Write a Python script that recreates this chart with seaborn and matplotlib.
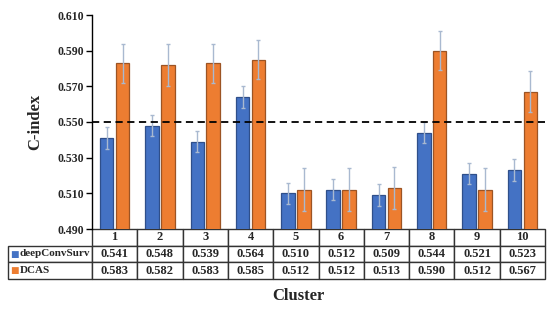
import pandas as pd
import matplotlib
matplotlib.use("Agg")
import matplotlib.pyplot as plt
import seaborn as sns

# Data
clusters = ["1", "2", "3", "4", "5", "6", "7", "8", "9", "10"]
deepconvsurv = [0.541, 0.548, 0.539, 0.564, 0.510, 0.512, 0.509, 0.544, 0.521, 0.523]
dcas = [0.583, 0.582, 0.583, 0.585, 0.512, 0.512, 0.513, 0.590, 0.512, 0.567]
deepconvsurv_err = [0.006, 0.006, 0.006, 0.006, 0.006, 0.006, 0.006, 0.006, 0.006, 0.006]
dcas_err = [0.011, 0.012, 0.011, 0.011, 0.012, 0.012, 0.012, 0.011, 0.012, 0.0115]
series = ["deepConvSurv", "DCAS"]
threshold = 0.55

colors = {"deepConvSurv": "#4472C4", "DCAS": "#ED7D31"}
edges = {"deepConvSurv": "#2F4F8A", "DCAS": "#9C5424"}

df = pd.DataFrame({
    "Cluster": clusters * 2,
    "C-index": deepconvsurv + dcas,
    "Model": [series[0]] * len(clusters) + [series[1]] * len(clusters),
})

sns.set_style("white")
plt.rcParams["font.family"] = ["Liberation Serif", "DejaVu Sans"]
plt.rcParams["font.weight"] = "bold"

fig = plt.figure(figsize=(5.54, 3.12), dpi=100)
ax = fig.add_axes([92 / 554, 1 - 229 / 312, 453 / 554, 214 / 312])

sns.barplot(data=df, x="Cluster", y="C-index", hue="Model", order=clusters,
            hue_order=series, palette=colors, saturation=1, width=0.7, gap=0.15,
            errorbar=None, legend=False, ax=ax, zorder=2)

# outline + error bars per series
for cont, name, errs in zip(ax.containers, series, [deepconvsurv_err, dcas_err]):
    xs, ys = [], []
    for bar in cont:
        bar.set_edgecolor(edges[name])
        bar.set_linewidth(0.9)
        xs.append(bar.get_x() + bar.get_width() / 2)
        ys.append(bar.get_height())
    ax.errorbar(xs, ys, yerr=errs, fmt="none", ecolor="#A9B9D0",
                elinewidth=1.0, capsize=1.5, capthick=1.0, zorder=3)

ax.axhline(threshold, color="black", linestyle="--", linewidth=1.3, dashes=(4, 2.5), zorder=4)

ax.set_xlim(-0.5, len(clusters) - 0.5)
ax.set_ylim(0.49, 0.61)
ax.set_yticks([0.49, 0.51, 0.53, 0.55, 0.57, 0.59, 0.61])
ax.set_yticklabels([f"{v:.3f}" for v in ax.get_yticks()], fontsize=8.5, fontweight="bold")
ax.tick_params(axis="y", direction="out", length=4, width=1, color="black", pad=2, left=True)
ax.set_xticks([])
ax.set_xlabel("")
ax.set_ylabel("C-index", fontsize=12, fontweight="bold", labelpad=10)
for s in ["top", "right", "bottom"]:
    ax.spines[s].set_visible(False)
ax.spines["left"].set_color("black")
ax.spines["left"].set_linewidth(1)

# data table under the bars (first column holds the row labels)
cell_text = [[""] + [f"{v:.3f}" for v in deepconvsurv],
             [""] + [f"{v:.3f}" for v in dcas]]
h = 50 / 214
x0 = -84 / 453
tw = 537 / 453
tbl = ax.table(cellText=cell_text, colLabels=[""] + clusters,
               colWidths=[84 / 537] + [45.3 / 537] * len(clusters),
               cellLoc="center", bbox=[x0, -h, tw, h])
tbl.auto_set_font_size(False)
tbl.set_fontsize(9)
for (r, c), cell in tbl.get_celld().items():
    cell.set_edgecolor("#333333")
    cell.set_linewidth(1)
    cell.get_text().set_fontweight("bold")
    if r == 0 and c == 0:
        cell.visible_edges = ""

for i, name in enumerate(series):
    yc = -h / 3 * (i + 1) - h / 6
    ax.text(x0 + 2 / 453, yc, "■", color=colors[name], fontsize=6.5,
            family="DejaVu Sans", va="center", ha="left", transform=ax.transAxes)
    ax.text(x0 + 11.5 / 453, yc, name, fontsize=8, fontweight="bold",
            va="center", ha="left", transform=ax.transAxes)

fig.text(298 / 554, 1 - 296 / 312, "Cluster", fontsize=12, fontweight="bold",
         ha="center", va="center")

fig.savefig("out.png", dpi=100)
